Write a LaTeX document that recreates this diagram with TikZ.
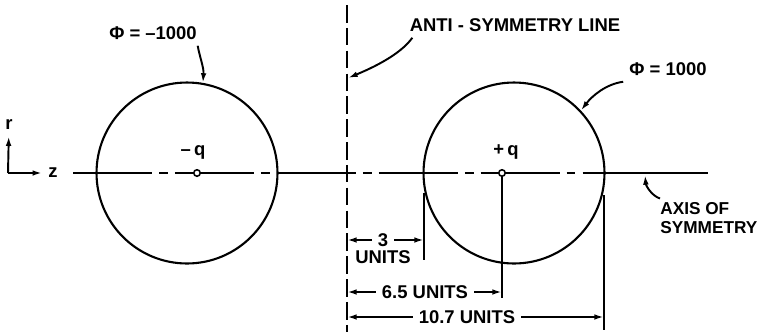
\documentclass[tikz,border=0pt]{standalone}
\usepackage{fontspec}
\setmainfont{Liberation Sans}
\usetikzlibrary{arrows.meta}

\begin{document}
\begin{tikzpicture}[x=0.02cm, y=-0.02cm,
  every node/.style={font=\fontsize{10.5}{10.5}\selectfont\bfseries},
  equip/.style={draw, circle, line width=1.2pt, inner sep=0pt, minimum size=3.62cm},
  charge/.style={draw, circle, fill=white, line width=0.9pt, inner sep=0pt,
    minimum size=0.13cm},
  centre/.style={line width=1.2pt, dash pattern=on 45pt off 4pt on 5pt off 4pt},
  symline/.style={line width=1.2pt, dash pattern=on 10pt off 3pt},
  ext/.style={line width=1.1pt},
  arrow/.style={-{Latex[length=5.5pt,width=3.2pt]}, line width=1.1pt}
 ]
\useasboundingbox (0,0) rectangle (763,332);

\coordinate (symtop) at (347,5);
\coordinate (symbot) at (347,332);
\coordinate (axL) at (73,173);
\coordinate (axR) at (708,173);
\node[equip] (cL) at (187,173) {};
\node[equip] (cR) at (514,173) {};
\draw[symline] (symtop) -- (symbot);
\draw[centre] (axL) -- (cR.east);
\draw[line width=1.2pt] (cR.east) -- (axR);
\node[charge] (qL) at (197,173) {};
\node[charge] (qR) at (502,173) {};
\node (qLlab) at (193,152) {–\,q};
\node (qRlab) at (506,152) {+\,q};

\coordinate (org) at (8,173);
\node (rlab) at (9,125) {r};
\node (zlab) at (53,173) {z};
\draw[arrow] (org) -- (rlab);
\draw[arrow] (org) -- (zlab);

\coordinate (e3top) at (424,193);
\coordinate (e3bot) at (424,260);
\coordinate (eqbot) at (502,298);
\coordinate (e107top) at (604,195);
\coordinate (e107bot) at (604,330);
\draw[ext] (e3top) -- (e3bot);
\draw[ext] (qR) -- (eqbot);
\draw[ext] (e107top) -- (e107bot);

\node (d3) at (383,240) {3};
\node (u3) at (383,257) {UNITS};
\coordinate (a3l) at (347,240);
\coordinate (a3r) at (424,240);
\draw[arrow] (d3) -- (a3l);
\draw[arrow] (d3) -- (a3r);

\node (d65) at (425,292) {6.5 UNITS};
\coordinate (a65l) at (347,292);
\coordinate (a65r) at (502,292);
\draw[arrow] (d65) -- (a65l);
\draw[arrow] (d65) -- (a65r);

\node (d107) at (467,317) {10.7 UNITS};
\coordinate (a107l) at (347,317);
\coordinate (a107r) at (604,317);
\draw[arrow] (d107) -- (a107l);
\draw[arrow] (d107) -- (a107r);

\node (phiL) at (153,33) {Φ = –1000};
\draw[arrow] ([xshift=-3pt]phiL.south east) .. controls (200,58) and (204,68) .. (cL.80);

\node (anti) at (515,25) {ANTI - SYMMETRY LINE};
\coordinate (antitip) at (348,78);
\draw[arrow] ([xshift=5pt]anti.south west) .. controls (400,55) and (372,68) .. (antitip);

\node (phiR) at (668,69) {Φ = 1000};
\draw[arrow] (phiR.south west) .. controls (606,84) and (592,96) .. (cR.43);

\node[align=left, anchor=north west, inner sep=0pt,
  font=\fontsize{9.8}{11}\selectfont\bfseries] (axlab) at (660,202) {AXIS OF\\SYMMETRY};
\coordinate (axtip) at (645,175);
\draw[arrow] ([yshift=2pt]axlab.north west) .. controls (652,196) and (646,186) .. (axtip);
\end{tikzpicture}
\end{document}
